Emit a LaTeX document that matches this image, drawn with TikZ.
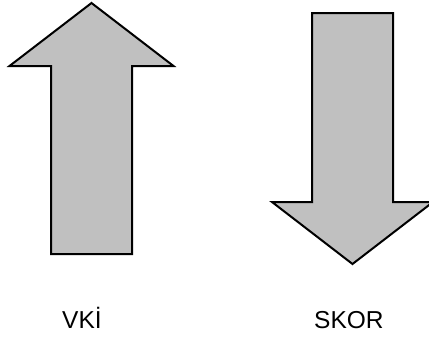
\documentclass[tikz,border=0pt]{standalone}
\usepackage{fontspec}
\setmainfont{Liberation Sans}
\begin{document}
\begin{tikzpicture}[x=1pt,y=-1pt,
  bigarrow/.style={draw=black, fill={rgb,255:red,192;green,192;blue,192}, line width=2pt, line join=miter},
  caption/.style={anchor=base west, inner sep=0pt, font=\fontsize{24.5}{29}\selectfont}]
  \useasboundingbox (0,0) rectangle (429,340);
  \clip (0,0) rectangle (429,340);
  % upward arrow
  \draw[bigarrow] (91.5,3) -- (173.5,66) -- (132,66) -- (132,254) -- (51,254)
    -- (51,66) -- (9.5,66) -- cycle;
  % downward arrow
  \draw[bigarrow] (312,13) -- (393,13) -- (393,202) -- (433,202) -- (352.5,264)
    -- (272,202) -- (312,202) -- cycle;
  % captions
  \node[caption] (vki) at (62,328) {VKİ};
  \node[caption] (skor) at (314,328) {SKOR};
\end{tikzpicture}
\end{document}
